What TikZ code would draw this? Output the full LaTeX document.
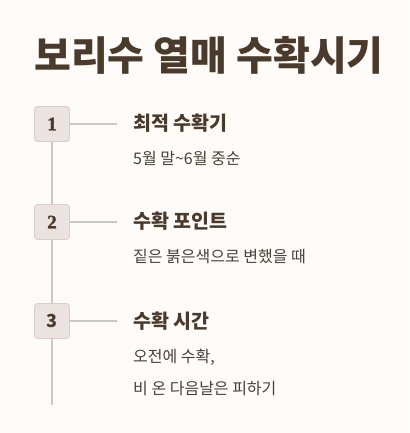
\documentclass[tikz,border=0pt]{standalone}
\usepackage{fontspec}
\setmainfont{Noto Sans CJK KR}
\newfontfamily\numserif{Liberation Serif Bold}[FakeBold=1.5]
\definecolor{bgc}{HTML}{FEFBF9}
\definecolor{titlec}{HTML}{4A3A2C}
\definecolor{textc}{HTML}{4A403A}
\definecolor{boxfill}{HTML}{ECE3E1}
\definecolor{boxline}{HTML}{D9CDCB}
\definecolor{linec}{HTML}{CFC5C3}
\begin{document}
\begin{tikzpicture}[x=1pt,y=-1pt,
  numbox/.style={draw=boxline,fill=boxfill,rounded corners=3pt,minimum width=35pt,minimum height=35pt,inner sep=0pt,text=titlec,line width=0.8pt},
  conn/.style={draw=linec,line width=1.6pt},
  head/.style={anchor=west,inner sep=0pt,text=titlec,font=\bfseries\fontsize{19.5}{22}\selectfont},
  sub/.style={anchor=west,inner sep=0pt,text=textc,font=\fontsize{16}{19}\selectfont}]
\fill[bgc] (0,0) rectangle (409,433);
\useasboundingbox (0,0) rectangle (409,433);
\node[inner sep=0pt,text=titlec,font=\bfseries\fontsize{40}{44}\selectfont] (title) at (209,55) {보리수 열매 수확시기};
\node[numbox,font=\numserif\fontsize{19}{21}\selectfont] (b1) at (52,124) {1};
\node[numbox,font=\numserif\fontsize{19}{21}\selectfont] (b2) at (52,222) {2};
\node[numbox,font=\bfseries\fontsize{18}{20}\selectfont] (b3) at (52,321) {3};
\coordinate (e1) at (117,124);
\coordinate (e2) at (117,222);
\coordinate (e3) at (117,321);
\coordinate (bot) at (52,405);
\draw[conn] (b1) -- (b2);
\draw[conn] (b2) -- (b3);
\draw[conn] (b3) -- (bot);
\draw[conn] (b1) -- (e1);
\draw[conn] (b2) -- (e2);
\draw[conn] (b3) -- (e3);
\node[head] (h1) at (133,123) {최적 수확기};
\node[sub] (s1) at (133,158) {5월 말\textasciitilde 6월 중순};
\node[head] (h2) at (133,221) {수확 포인트};
\node[sub] (s2) at (133,257) {짙은 붉은색으로 변했을 때};
\node[head] (h3) at (133,321) {수확 시간};
\node[sub] (s3) at (133,357) {오전에 수확,};
\node[sub] (s4) at (133,389) {비 온 다음날은 피하기};
\end{tikzpicture}
\end{document}
